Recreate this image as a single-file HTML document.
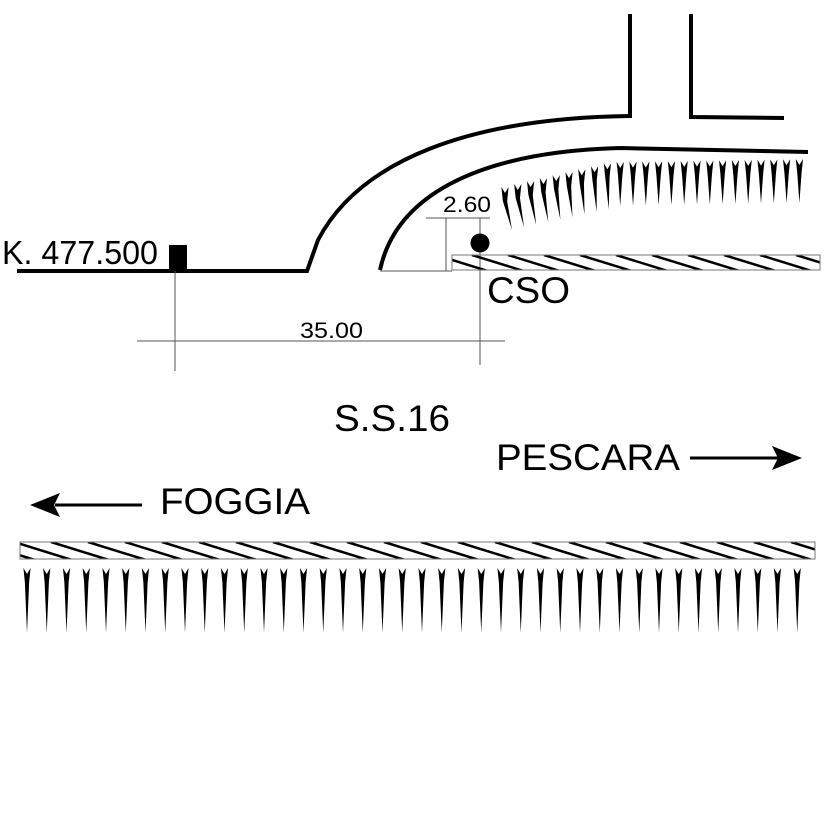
<!DOCTYPE html>
<html><head><meta charset="utf-8"><style>html,body{margin:0;padding:0;background:#fff}svg{display:block}text{font-family:"Liberation Sans",sans-serif;fill:#000}</style></head>
<body>
<svg id="s" width="827" height="827" viewBox="0 0 827 827" xmlns="http://www.w3.org/2000/svg">
<defs>
<clipPath id="c1"><rect x="452" y="255" width="368" height="15"/></clipPath>
<clipPath id="c2"><rect x="20" y="542" width="795" height="17"/></clipPath>
</defs>
<rect width="827" height="827" fill="#fff"/>
<g fill="none" stroke="#000" stroke-width="4">
<path d="M17,271 L307,271 L318,240 C360,160 470,118 630,116 L630,14"/>
<path d="M691,14 L691,117 L784,118"/>
<path d="M380,270 C395,200 470,152 620,148 L808,152"/>
</g>
<rect x="169" y="245" width="18" height="27" fill="#000"/>
<g stroke="#555" stroke-width="1">
<line x1="175" y1="271" x2="175" y2="371"/>
<line x1="480" y1="218" x2="480" y2="365"/>
<line x1="137" y1="341" x2="505" y2="341"/>
<line x1="380" y1="271" x2="452" y2="271"/>
<line x1="446" y1="218" x2="446" y2="271"/>
<line x1="426" y1="218" x2="490" y2="218"/>
</g>
<circle cx="480" cy="243" r="9.5" fill="#000"/>
<g id="h1" clip-path="url(#c1)"></g>
<rect x="452" y="255" width="368" height="15" fill="none" stroke="#777" stroke-width="1"/>
<g id="h2" clip-path="url(#c2)"></g>
<rect x="20" y="542" width="795" height="17" fill="none" stroke="#777" stroke-width="1"/>
<g id="sp"></g>
<line x1="690" y1="458" x2="778" y2="458" stroke="#000" stroke-width="3"/>
<polygon points="802,458 772,446 778,458 772,470" fill="#000"/>
<line x1="55" y1="505" x2="142" y2="505" stroke="#000" stroke-width="3"/>
<polygon points="30,505 60,493 54,505 60,517" fill="#000"/>
<text x="2" y="264" font-size="33" textLength="156" lengthAdjust="spacingAndGlyphs">K. 477.500</text>
<text x="300" y="338" font-size="22" textLength="63" lengthAdjust="spacingAndGlyphs">35.00</text>
<text x="443" y="212" font-size="22" textLength="48" lengthAdjust="spacingAndGlyphs">2.60</text>
<text x="487" y="303" font-size="37" textLength="83" lengthAdjust="spacingAndGlyphs">CSO</text>
<text x="334" y="431" font-size="37" textLength="116" lengthAdjust="spacingAndGlyphs">S.S.16</text>
<text x="496" y="470" font-size="37" textLength="184" lengthAdjust="spacingAndGlyphs">PESCARA</text>
<text x="160" y="514" font-size="37" textLength="150" lengthAdjust="spacingAndGlyphs">FOGGIA</text>
</svg>
<script>
(function(){
var NS="http://www.w3.org/2000/svg";
function el(p,t,a){var e=document.createElementNS(NS,t);for(var k in a)e.setAttribute(k,a[k]);p.appendChild(e);return e;}
var h1=document.getElementById('h1'),h2=document.getElementById('h2');
for(var x=400;x<860;x+=36){el(h1,'line',{x1:x,y1:255,x2:x+55,y2:272,stroke:'#000','stroke-width':2.5});}
for(var x=-60;x<860;x+=37){el(h2,'line',{x1:x,y1:542,x2:x+58,y2:560,stroke:'#000','stroke-width':2.5});}
var sp=document.getElementById('sp');
function spike(cx,tp,bt,tilt){
 var w=3.6;
 var d="M"+(cx-w)+","+tp+" L"+cx+","+(tp+6)+" L"+(cx+w)+","+tp+" L"+(cx+w*0.6)+","+(tp+14)+" L"+(cx+tilt)+","+bt+" L"+(cx-w*0.6)+","+(tp+14)+" Z";
 el(sp,'path',{d:d,fill:'#000'});
}
for(var i=0;i<40;i++){spike(27+i*19.75,568,633,0);}
for(var x=505;x<=800;x+=12.8){
 var tp,bt,tilt;
 if(x<613){var u=(x-505)/108;tp=187-25*u;bt=230-22*u;tilt=6*(1-u)+1;}
 else{var t=(x-613)/187;tp=162-3*t;bt=206-3*t;tilt=0;}
 spike(x,tp,bt,tilt);
}
})();
</script>
</body></html>
